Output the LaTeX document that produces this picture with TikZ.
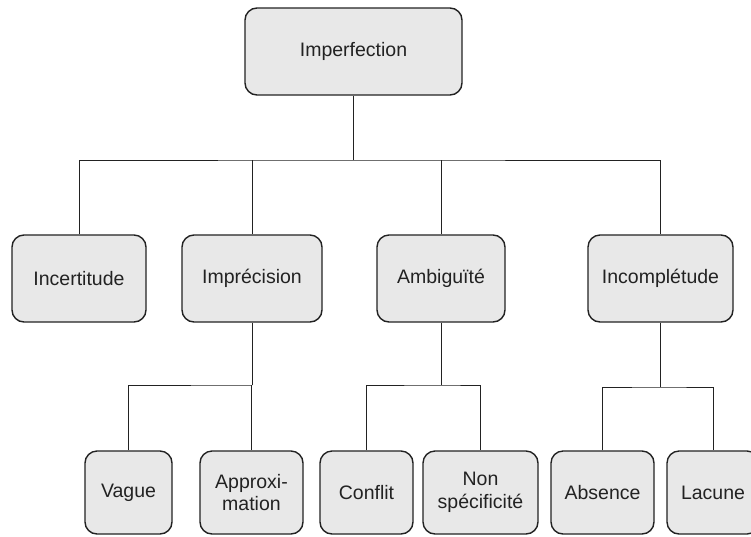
\documentclass[tikz,border=0pt]{standalone}
\usepackage{fontspec}
\setmainfont{Liberation Sans}
\definecolor{boxfill}{HTML}{E8E8E8}
\definecolor{ink}{HTML}{222222}
\begin{document}
\begin{tikzpicture}[x=1pt,y=-1pt,
  box/.style={draw=ink, line width=1.4pt, fill=boxfill, rounded corners=12pt,
    inner sep=0pt, align=center, text=ink,
    font=\fontsize{19.5}{22.5}\selectfont},
  link/.style={draw=ink, line width=0.9pt}]
\clip (0,0) rectangle (751,536);
\fill[white] (0,0) rectangle (751,536);
% level 1
\node[box, minimum width=217, minimum height=87] (top) at (353.5,51.5) {Imperfection};
% level 2
\node[box, minimum width=134, minimum height=87] (inc) at (79,278.5) {Incertitude};
\node[box, minimum width=140, minimum height=87] (imp) at (252,278.5) {Imprécision};
\node[box, minimum width=128, minimum height=87] (amb) at (441,278.5) {Ambiguïté};
\node[box, minimum width=145, minimum height=87] (icp) at (660.5,278.5) {Incomplétude};
% level 3
\node[box, minimum width=87, minimum height=83] (vag) at (128.5,492.5) {Vague};
\node[box, minimum width=103, minimum height=83] (app) at (251.5,492.5) {Approxi-\\mation};
\node[box, minimum width=93, minimum height=83] (con) at (366.5,492.5) {Conflit};
\node[box, minimum width=115, minimum height=83] (non) at (480.5,492.5) {Non\\spécificité};
\node[box, minimum width=103, minimum height=83] (abs) at (602.5,492.5) {Absence};
\node[box, minimum width=92, minimum height=83] (lac) at (713,492.5) {Lacune};
% junctions
\coordinate (j1) at (353.5,160);
\coordinate (j2) at (252,385);
\coordinate (j3) at (441,385);
\coordinate (j4) at (660.5,387);
% connectors
\draw[link] (top.south) -- (j1);
\draw[link] (inc.north) |- (j1) -| (icp.north);
\draw[link] (imp.north) -- (imp.north |- j1);
\draw[link] (amb.north) -- (amb.north |- j1);
\draw[link] (imp.south) -- (j2);
\draw[link] (vag.north) |- (j2) -| (app.north);
\draw[link] (amb.south) -- (j3);
\draw[link] (con.north) |- (j3) -| (non.north);
\draw[link] (icp.south) -- (j4);
\draw[link] (abs.north) |- (j4) -| (lac.north);
\end{tikzpicture}
\end{document}
